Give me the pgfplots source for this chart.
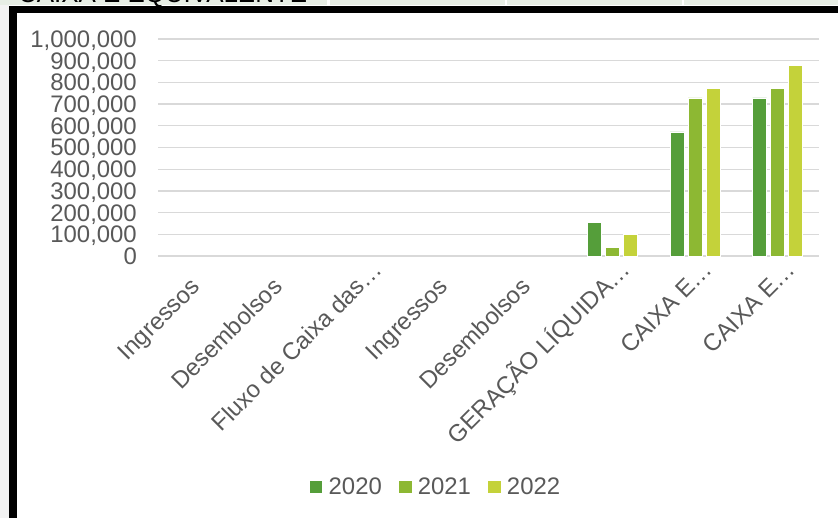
\documentclass[border=0pt]{standalone}
\usepackage{fontspec}
\setmainfont{Liberation Sans}
\usepackage{pgfplots}
\pgfplotsset{compat=1.18}
\definecolor{c20}{HTML}{559E3A}
\definecolor{c21}{HTML}{8DB833}
\definecolor{c22}{HTML}{C4D23A}
\definecolor{gridc}{HTML}{D9D9D9}
\definecolor{txt}{HTML}{595959}
\definecolor{strip}{HTML}{E7EEE5}
\definecolor{lgray}{HTML}{F3F3F3}
\pgfplotsset{sq/.style={legend image code/.code={\fill[##1,draw=none] (0bp,-6.35bp) rectangle (12.7bp,6.35bp); \path (18.7bp,0bp);}}}
\begin{document}
\begin{tikzpicture}
\useasboundingbox (0,0) rectangle (838bp,518bp);
\fill[white] (0,0) rectangle (838bp,518bp);
\fill[lgray] (0,0) rectangle (9bp,518bp);
\fill[strip] (0,513bp) rectangle (838bp,518bp);
\fill[white] (327bp,513bp) rectangle (330bp,518bp);
\fill[white] (505bp,513bp) rectangle (507bp,518bp);
\fill[white] (682bp,513bp) rectangle (684bp,518bp);
\begin{scope}
\clip (17bp,512.5bp) rectangle (327bp,518bp);
\node[anchor=base west, inner sep=0pt, font=\fontsize{26}{28}\selectfont] at (18bp,515.5bp) {CAIXA E EQUIVALENTE};
\end{scope}
\fill[black] (9bp,0) rectangle (17bp,512bp);
\fill[black] (9bp,505bp) rectangle (838bp,512bp);
\begin{axis}[
  at={(158bp,262bp)}, anchor=south west,
  scale only axis, width=661bp, height=217bp,
  xmin=-0.5, xmax=7.5, ymin=0, ymax=1000000,
  enlargelimits=false, clip=false,
  ybar=4bp, bar width=14bp,
  axis line style={draw=none},
  major tick length=0pt,
  ymajorgrids, major grid style={color=gridc, line width=1.3bp},
  ytick={0,100000,...,1000000},
  scaled y ticks=false,
  /pgf/number format/.cd, fixed, precision=0, 1000 sep={,}, assume math mode=true,
  /pgfplots/.cd,
  tick label style={font=\fontsize{24}{28}\selectfont, text=txt},
  yticklabel style={inner sep=0pt, xshift=-21bp, yshift=-8.5bp, anchor=base east},
  xtick={0,1,2,3,4,5,6,7},
  xticklabels={Ingressos, Desembolsos, Fluxo de Caixa das\rlap{…}, Ingressos, Desembolsos, GERAÇÃO LÍQUIDA\rlap{…}, CAIXA E\rlap{…}, CAIXA E\rlap{…}},
  xticklabel style={inner sep=0pt, xshift=2bp, yshift=-32bp, rotate=45, anchor=base east},
  legend columns=3,
  legend style={at={(0.419,-1.0645)}, anchor=center, draw=none, fill=none,
    font=\fontsize{24}{28}\selectfont, text=txt,
    nodes={inner sep=0pt},
    /tikz/every even column/.append style={column sep=17bp}},
]
\addplot[sq, fill=c20, draw=white, line width=0.5bp] coordinates {(5,156000) (6,572000) (7,729000)};
\addplot[sq, fill=c21, draw=white, line width=0.5bp] coordinates {(5,41000) (6,729000) (7,773000)};
\addplot[sq, fill=c22, draw=white, line width=0.5bp] coordinates {(5,101000) (6,773000) (7,877000)};
\legend{2020,2021,2022}
\end{axis}
\end{tikzpicture}
\end{document}
